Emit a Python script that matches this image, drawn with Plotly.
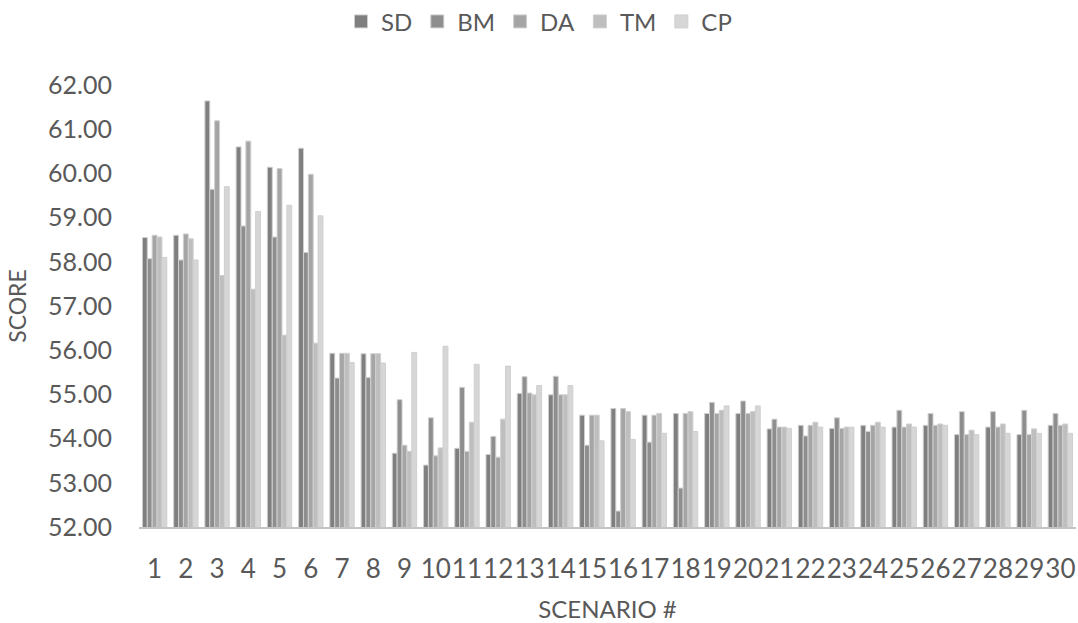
import plotly.graph_objects as go

scenarios = [str(i) for i in range(1, 31)]

SD = [58.55, 58.60, 61.64, 60.60, 60.14, 60.57, 55.93, 55.92, 53.67, 53.40,
      53.78, 53.64, 55.02, 54.99, 54.53, 54.68, 54.53, 54.57, 54.57, 54.57,
      54.22, 54.30, 54.23, 54.30, 54.26, 54.30, 54.09, 54.26, 54.09, 54.30]
BM = [58.07, 58.04, 59.64, 58.81, 58.56, 58.21, 55.37, 55.38, 54.88, 54.47,
      55.16, 54.05, 55.40, 55.41, 53.85, 52.36, 53.92, 52.88, 54.82, 54.85,
      54.44, 54.06, 54.47, 54.16, 54.64, 54.57, 54.61, 54.61, 54.64, 54.57]
DA = [58.60, 58.63, 61.19, 60.73, 60.11, 59.98, 55.93, 55.92, 53.85, 53.61,
      53.71, 53.58, 55.03, 54.99, 54.53, 54.68, 54.53, 54.57, 54.57, 54.57,
      54.26, 54.30, 54.23, 54.30, 54.26, 54.30, 54.09, 54.26, 54.09, 54.30]
TM = [58.56, 58.52, 57.69, 57.38, 56.34, 56.16, 55.93, 55.92, 53.71, 53.79,
      54.37, 54.44, 54.99, 54.99, 54.53, 54.61, 54.57, 54.61, 54.64, 54.61,
      54.26, 54.37, 54.26, 54.37, 54.33, 54.33, 54.19, 54.33, 54.22, 54.33]
CP = [58.10, 58.04, 59.70, 59.14, 59.28, 59.04, 55.72, 55.71, 55.95, 56.09,
      55.68, 55.64, 55.20, 55.20, 53.95, 53.98, 54.12, 54.16, 54.74, 54.74,
      54.23, 54.26, 54.26, 54.26, 54.26, 54.30, 54.09, 54.12, 54.12, 54.12]

y_ticks = [52, 53, 54, 55, 56, 57, 58, 59, 60, 61, 62]

series = [("SD", SD, "#7f7f7f"), ("BM", BM, "#8e8e8e"), ("DA", DA, "#a5a5a5"),
          ("TM", TM, "#bebebe"), ("CP", CP, "#d6d6d6")]

FONT = "Lato"
TXT = "#595959"

fig = go.Figure()
for name, vals, col in series:
    fig.add_trace(go.Bar(
        x=scenarios, y=vals, name=name, showlegend=False, legendgroup=name,
        marker=dict(color=col, line=dict(color="#cfcfcf", width=1)),
    ))
# legend entries with larger square keys
for name, vals, col in series:
    fig.add_trace(go.Scatter(
        x=[None], y=[None], mode="markers", name=name, legendgroup=name,
        marker=dict(symbol="square", size=13, color=col,
                    line=dict(color="#cfcfcf", width=1)),
    ))

fig.update_layout(
    width=1078, height=623,
    barmode="group", bargap=0.22, bargroupgap=0,
    plot_bgcolor="white", paper_bgcolor="white",
    margin=dict(l=139, r=2, t=85, b=96),
    font=dict(family=FONT, color=TXT, size=24),
    legend=dict(orientation="h", xref="container", yref="container",
                x=0.5, xanchor="center", y=0.965, yanchor="middle",
                font=dict(size=24, color=TXT), itemwidth=30,
                traceorder="normal"),
    showlegend=True,
)
fig.update_xaxes(
    type="category", showline=True, linecolor="#c4c4c4", linewidth=2,
    showgrid=False, ticks="", ticklabelstandoff=18, tickangle=0,
    automargin=False,
    tickfont=dict(size=26, color=TXT),
    title=dict(text="SCENARIO #", font=dict(size=24, color=TXT), standoff=18),
)
fig.update_yaxes(
    range=[52, 62], tickmode="array", tickvals=y_ticks, tickformat=".2f",
    showgrid=False, zeroline=False, showline=False, ticks="",
    automargin=False,
    ticklabelstandoff=26, tickfont=dict(size=25, color=TXT),
    title=dict(text="SCORE", font=dict(size=23, color=TXT), standoff=15),
)

fig.write_html("out.html")
